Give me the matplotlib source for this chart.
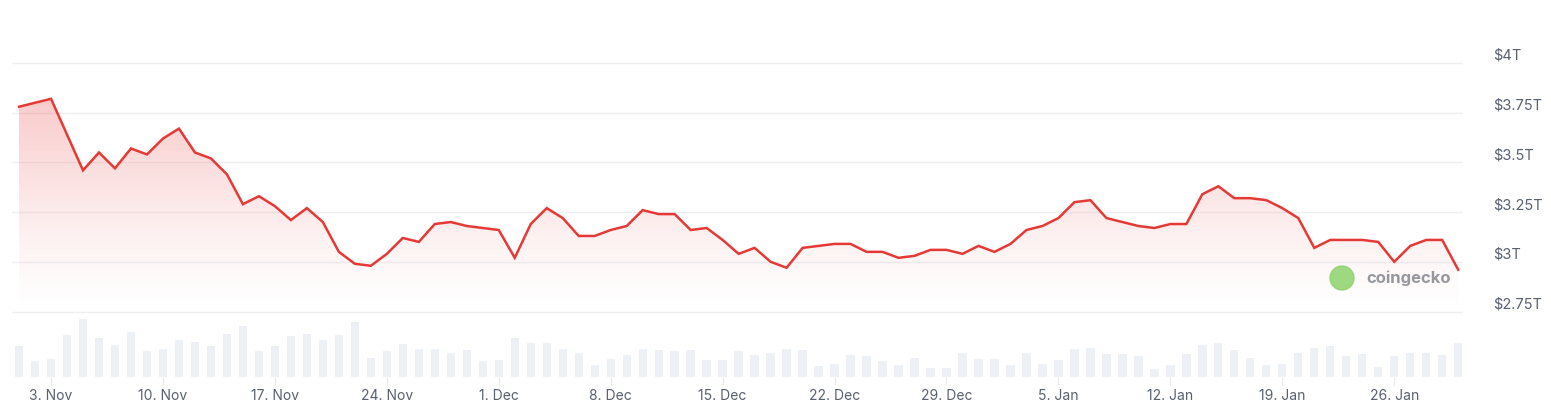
import numpy as np
import matplotlib
matplotlib.use("Agg")
import matplotlib.pyplot as plt
from matplotlib.patches import Polygon, Circle

# daily market cap (trillion USD), starting 1 Nov
market_cap = [3.78, 3.80, 3.82, 3.64, 3.46, 3.55, 3.47, 3.57, 3.54, 3.62,
              3.67, 3.55, 3.52, 3.44, 3.29, 3.33, 3.28, 3.21, 3.27, 3.20,
              3.05, 2.99, 2.98, 3.04, 3.12, 3.10, 3.19, 3.20, 3.18, 3.17,
              3.16, 3.02, 3.19, 3.27, 3.22, 3.13, 3.13, 3.16, 3.18, 3.26,
              3.24, 3.24, 3.16, 3.17, 3.11, 3.04, 3.07, 3.00, 2.97, 3.07,
              3.08, 3.09, 3.09, 3.05, 3.05, 3.02, 3.03, 3.06, 3.06, 3.04,
              3.08, 3.05, 3.09, 3.16, 3.18, 3.22, 3.30, 3.31, 3.22, 3.20,
              3.18, 3.17, 3.19, 3.19, 3.34, 3.38, 3.32, 3.32, 3.31, 3.27,
              3.22, 3.07, 3.11, 3.11, 3.11, 3.10, 3.00, 3.08, 3.11, 3.11,
              2.96]
# relative daily volume
volume = [92, 47, 55, 125, 173, 117, 95, 133, 77, 85,
          110, 103, 92, 129, 152, 77, 92, 122, 129, 110,
          125, 163, 57, 77, 99, 85, 85, 73, 82, 47,
          50, 115, 100, 100, 85, 73, 35, 55, 67, 85,
          80, 77, 80, 50, 50, 77, 65, 73, 85, 80,
          32, 40, 67, 62, 47, 35, 57, 28, 28, 72,
          55, 55, 35, 73, 40, 50, 83, 87, 70, 70,
          62, 25, 37, 70, 95, 100, 80, 57, 35, 40,
          73, 87, 93, 62, 70, 30, 62, 73, 73, 65,
          100]
tick_labels = ["3. Nov", "10. Nov", "17. Nov", "24. Nov", "1. Dec", "8. Dec",
               "15. Dec", "22. Dec", "29. Dec", "5. Jan", "12. Jan", "19. Jan", "26. Jan"]
tick_days = [2, 9, 16, 23, 30, 37, 44, 51, 58, 65, 72, 79, 86]
y_ticks = [2.75, 3.0, 3.25, 3.5, 3.75, 4.0]
y_labels = ["$2.75T", "$3T", "$3.25T", "$3.5T", "$3.75T", "$4T"]

W, H = 1551, 417
fig = plt.figure(figsize=(W / 100, H / 100), dpi=100)
left, right, top, bottom = 12, 1463, 30, 377
ax = fig.add_axes([left / W, 1 - bottom / H, (right - left) / W, (bottom - top) / H])
x = np.arange(len(market_cap))
ax.set_xlim(-0.44, 90.3)
y_top = 4 - (top - 63) / 198.8
y_bot = 4 - (bottom - 63) / 198.8
ax.set_ylim(y_bot, y_top)

axv = ax.twinx()
axv.set_ylim(0, 173 * (bottom - top) / 58)
axv.bar(x, volume, width=0.52, color="#edf0f4", zorder=1)
axv.set_axis_off()
ax.set_zorder(axv.get_zorder() + 1)
ax.patch.set_visible(False)

for yt in y_ticks:
    ax.axhline(yt, color="#eeeff1", lw=1, zorder=0)

# gradient fill
fill_bottom = 2.77
grad = np.linspace(0, 1, 256).reshape(-1, 1) ** 0.6
cmap = matplotlib.colors.LinearSegmentedColormap.from_list(
    "g", [(1, 1, 1, 0), (0.92, 0.22, 0.22, 0.26)])
im = ax.imshow(grad, aspect="auto", cmap=cmap, origin="lower",
               extent=[x[0], x[-1], fill_bottom, max(market_cap)], zorder=1)
verts = [(x[0], fill_bottom)] + list(zip(x, market_cap)) + [(x[-1], fill_bottom)]
poly = Polygon(verts, closed=True, facecolor="none", edgecolor="none")
ax.add_patch(poly)
im.set_clip_path(poly)
ax.plot(x, market_cap, color="#e53935", lw=1.8, zorder=3, solid_joinstyle="miter")

ax.set_xticks(tick_days)
ax.set_xticklabels(tick_labels, fontsize=10, color="#58606e", family="Inter")
ax.tick_params(axis="x", length=6, color="#e6e8eb", pad=3, direction="out")
ax.yaxis.tick_right()
ax.set_yticks(y_ticks)
ax.set_yticklabels(y_labels, fontsize=10.5, color="#58606e", family="Inter",
                   va="bottom")
ax.tick_params(axis="y", length=0, pad=22)
for s in ax.spines.values():
    s.set_visible(False)

# watermark
fig.text(1366 / W, 1 - 278 / H, "coingecko", fontsize=12, fontweight="bold",
         color="#8a8d93", va="center", ha="left", family="Inter", alpha=0.9)
logo = Circle((1342 / 100, (H - 278) / 100), 0.12,
              transform=fig.dpi_scale_trans, color="#8dd36b", alpha=0.85)
fig.patches.append(logo)

fig.savefig("out.png", dpi=100)
